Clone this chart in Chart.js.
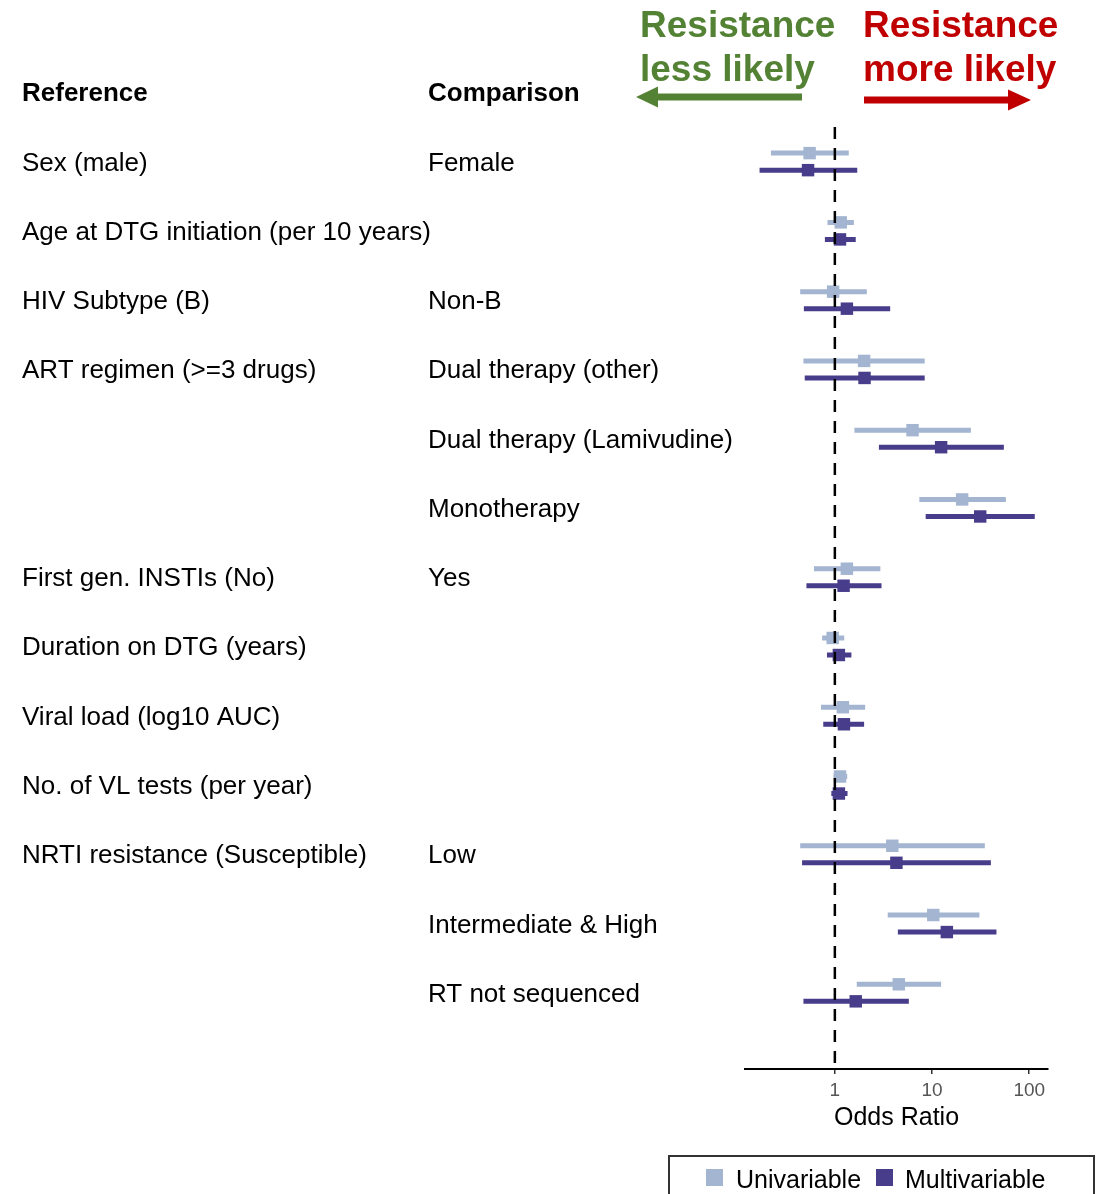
<!DOCTYPE html>
<html>
<head>
<meta charset="utf-8">
<script src="https://cdn.jsdelivr.net/npm/chart.js@4.4.1/dist/chart.umd.min.js"></script>
<style>
  html, body { margin: 0; padding: 0; background: #fff; }
  #wrap { width: 1096px; height: 1194px; position: relative; }
</style>
</head>
<body>
<div id="wrap"><canvas id="forestChart"></canvas></div>
<script>
// rows, top to bottom
const refLabels = ['Sex (male)', 'Age at DTG initiation (per 10 years)', 'HIV Subtype (B)', 'ART regimen (>=3 drugs)', '', '',
  'First gen. INSTIs (No)', 'Duration on DTG (years)', 'Viral load (log10 AUC)', 'No. of VL tests (per year)',
  'NRTI resistance (Susceptible)', '', ''];
const compLabels = ['Female', '', 'Non-B', 'Dual therapy (other)', 'Dual therapy (Lamivudine)', 'Monotherapy',
  'Yes', '', '', '', 'Low', 'Intermediate & High', 'RT not sequenced'];

// odds ratios with 95% CI
const uniOR   = [0.55, 1.15, 0.96, 2.0, 6.3, 20.4, 1.33, 0.95, 1.21, 1.13, 3.9, 10.3, 4.55];
const uniLo   = [0.22, 0.84, 0.44, 0.475, 1.59, 7.4, 0.61, 0.74, 0.72, 0.97, 0.44, 3.5, 1.68];
const uniHi   = [1.39, 1.57, 2.13, 8.4, 25.1, 57.5, 2.94, 1.25, 2.05, 1.34, 34.9, 30.7, 12.4];
const multiOR = [0.53, 1.13, 1.33, 2.02, 12.4, 31.3, 1.23, 1.10, 1.24, 1.10, 4.3, 14.2, 1.64];
const multiLo = [0.168, 0.79, 0.48, 0.49, 2.84, 8.6, 0.51, 0.83, 0.76, 0.92, 0.46, 4.45, 0.475];
const multiHi = [1.70, 1.64, 3.71, 8.4, 54.8, 114, 3.02, 1.48, 2.0, 1.35, 40.3, 46, 5.77];

const seriesNames = ['Univariable', 'Multivariable'];
const xTicks = [1, 10, 100];

const uniColor = '#a3b5d0';
const multiColor = '#483d8b';
const font = '"Liberation Sans", Arial, sans-serif';
const rowShift = 0.123;

function ciLine(lo, hi, shift) {
  let pts = [];
  lo.forEach((v, i) => {
    pts.push({ x: v, y: i + shift });
    pts.push({ x: hi[i], y: i + shift });
    pts.push({ x: hi[i], y: null });
  });
  return pts;
}
function orPoints(or, shift) {
  return or.map((v, i) => ({ x: v, y: i + shift }));
}

const labelsPlugin = {
  id: 'forestLabels',
  afterDraw(chart) {
    const ctx = chart.ctx;
    const y = chart.scales.y;
    ctx.save();
    ctx.fillStyle = '#000';
    ctx.textAlign = 'left';
    ctx.textBaseline = 'alphabetic';
    ctx.font = 'bold 26px ' + font;
    ctx.fillText('Reference', 22, 101);
    ctx.fillText('Comparison', 428, 101);
    ctx.font = '26px ' + font;
    refLabels.forEach((t, i) => { if (t) ctx.fillText(t, 22, y.getPixelForValue(i) + 9); });
    compLabels.forEach((t, i) => { if (t) ctx.fillText(t, 428, y.getPixelForValue(i) + 9); });

    // direction headers
    ctx.font = 'bold 37px ' + font;
    ctx.fillStyle = '#548235';
    ctx.fillText('Resistance', 640, 37);
    ctx.fillText('less likely', 640, 81);
    ctx.fillStyle = '#c00000';
    ctx.fillText('Resistance', 863, 37);
    ctx.fillText('more likely', 863, 81);

    // arrows
    ctx.fillStyle = '#548235';
    ctx.fillRect(655, 93.5, 147, 7);
    ctx.beginPath();
    ctx.moveTo(636, 97); ctx.lineTo(658, 86.5); ctx.lineTo(658, 107.5); ctx.closePath(); ctx.fill();
    ctx.fillStyle = '#c00000';
    ctx.fillRect(864, 96.5, 146, 7);
    ctx.beginPath();
    ctx.moveTo(1031, 100); ctx.lineTo(1008, 89.5); ctx.lineTo(1008, 110.5); ctx.closePath(); ctx.fill();

    // legend
    ctx.strokeStyle = '#333';
    ctx.lineWidth = 2;
    ctx.strokeRect(669, 1156, 425, 60);
    ctx.font = '25px ' + font;
    ctx.fillStyle = uniColor;
    ctx.fillRect(706, 1169, 17, 17);
    ctx.fillStyle = multiColor;
    ctx.fillRect(876, 1169, 17, 17);
    ctx.fillStyle = '#000';
    ctx.fillText(seriesNames[0], 736, 1188);
    ctx.fillText(seriesNames[1], 905, 1188);
    ctx.restore();
  }
};

new Chart(document.getElementById('forestChart'), {
  type: 'line',
  data: {
    datasets: [
      {
        label: 'ref',
        data: [{ x: 1, y: -0.5 }, { x: 1, y: 13.1 }],
        borderColor: '#000',
        borderWidth: 2.5,
        borderDash: [12, 9],
        pointRadius: 0,
        order: 0
      },
      {
        label: seriesNames[0] + ' CI',
        data: ciLine(uniLo, uniHi, -rowShift),
        borderColor: uniColor,
        borderWidth: 5,
        borderCapStyle: 'butt',
        pointRadius: 0,
        spanGaps: false,
        order: 4
      },
      {
        label: seriesNames[0],
        type: 'scatter',
        data: orPoints(uniOR, -rowShift),
        backgroundColor: uniColor,
        pointStyle: 'rect',
        pointRadius: 8.8,
        borderWidth: 0,
        order: 3
      },
      {
        label: seriesNames[1] + ' CI',
        data: ciLine(multiLo, multiHi, rowShift),
        borderColor: multiColor,
        borderWidth: 5,
        borderCapStyle: 'butt',
        pointRadius: 0,
        spanGaps: false,
        order: 2
      },
      {
        label: seriesNames[1],
        type: 'scatter',
        data: orPoints(multiOR, rowShift),
        backgroundColor: multiColor,
        pointStyle: 'rect',
        pointRadius: 8.8,
        borderWidth: 0,
        order: 1
      }
    ]
  },
  options: {
    responsive: true,
    maintainAspectRatio: false,
    devicePixelRatio: 1,
    animation: false,
    layout: { padding: { left: 745, right: 48, top: 127, bottom: 0 } },
    plugins: {
      legend: { display: false },
      tooltip: { enabled: false }
    },
    scales: {
      x: {
        type: 'logarithmic',
        min: 0.119,
        max: 156,
        afterBuildTicks: (scale) => { scale.ticks = xTicks.map(v => ({ value: v })); },
        afterFit: (scale) => { scale.height = 125; },
        grid: { display: true, drawOnChartArea: false, drawTicks: true, tickLength: 5, color: '#333', lineWidth: 1.5 },
        border: { display: true, color: '#000', width: 2 },
        ticks: {
          autoSkip: false,
          maxRotation: 0,
          padding: 5,
          color: '#555',
          font: { family: font, size: 19 },
          callback: (v) => String(v)
        },
        title: {
          display: true,
          text: 'Odds Ratio',
          color: '#000',
          font: { family: font, size: 25 },
          padding: { top: 0, bottom: 61 }
        }
      },
      y: {
        type: 'linear',
        display: false,
        reverse: true,
        min: -0.5,
        max: 13.1
      }
    }
  },
  plugins: [labelsPlugin]
});
</script>
</body>
</html>
